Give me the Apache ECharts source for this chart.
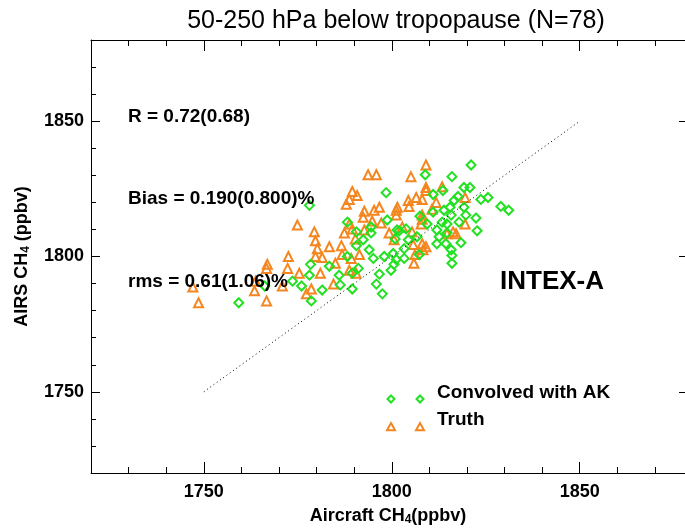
<!DOCTYPE html>
<html>
<head>
<meta charset="utf-8">
<script src="https://cdn.jsdelivr.net/npm/echarts@6/dist/echarts.min.js"></script>
<style>
html,body{margin:0;padding:0;background:#fff;}
#chart{width:685px;height:531px;}
</style>
</head>
<body>
<div id="chart"></div>
<script>
// ---- data ----
const xMin = 1720;
const xMax = 1878;   // the plot frame is cut off by the right edge of the image
const yMin = 1720;
const yMax = 1880;
const majorTicks = [1750, 1800, 1850];
const oneToOne = [1750, 1850];

const akX = [1759.3,1766.2,1778.1,1778.4,1778.1,1773.6,1776.0,1781.5,1778.6,1786.0,
  1786.3,1789.5,1788.2,1790.6,1788.2,1789.5,1798.5,1794.5,1794.5,1798.8,
  1801.4,1792.4,1790.6,1794.0,1795.1,1798.0,1800.4,1801.2,1800.6,1799.8,
  1791.1,1795.9,1797.5,1821.1,1808.9,1816.0,1813.6,1819.2,1820.8,1811.0,
  1817.6,1816.6,1823.7,1825.6,1829.0,1831.1,1815.5,1813.9,1819.2,1815.8,
  1819.7,1822.4,1807.5,1809.4,1813.4,1814.7,1803.8,1802.0,1822.7,1814.7,
  1804.4,1812.6,1812.0,1814.4,1818.4,1815.8,1816.0,1816.0,1803.3,1806.7,
  1811.0,1817.9,1796.7,1783.4,1800.9,1807.3,1812.0,1803.3];
const akY = [1782.9,1789.1,1818.9,1797.1,1793.1,1790.9,1789.1,1787.6,1783.6,1793.1,
  1789.5,1788.0,1812.7,1809.1,1800.0,1793.8,1823.6,1810.9,1808.7,1813.5,
  1809.8,1806.2,1804.0,1802.5,1799.3,1800.0,1801.1,1798.9,1797.1,1794.9,
  1795.6,1789.8,1786.2,1833.8,1830.2,1829.5,1824.4,1825.5,1825.5,1822.9,
  1822.2,1820.7,1821.1,1821.8,1818.5,1817.1,1818.2,1817.1,1818.2,1815.3,
  1815.3,1814.2,1814.9,1812.0,1812.7,1812.0,1810.2,1809.5,1809.5,1808.7,
  1806.2,1807.3,1804.7,1804.7,1805.1,1802.5,1800.4,1797.5,1802.9,1807.3,
  1816.4,1812.7,1793.5,1796.4,1806.5,1800.7,1809.8,1799.3];

const truthX = [1747.1,1748.6,1763.8,1763.5,1766.7,1766.9,1766.7,1772.5,1772.3,1770.9,
  1774.9,1775.4,1779.4,1779.7,1780.2,1779.7,1781.5,1781.0,1778.6,1777.3,
  1784.5,1785.0,1786.6,1786.8,1789.2,1788.7,1790.3,1788.7,1789.5,1787.9,
  1788.7,1789.5,1790.8,1793.7,1795.9,1792.7,1795.3,1792.4,1794.8,1797.2,
  1792.7,1799.3,1800.6,1801.2,1801.2,1809.1,1805.1,1809.1,1809.1,1813.4,
  1806.5,1808.1,1804.4,1804.6,1810.7,1819.5,1808.1,1808.1,1807.8,1819.5,
  1814.7,1816.3,1817.1,1805.4,1808.1,1809.1,1808.3,1805.7,1806.2,1805.9,
  1783.4,1787.4,1796.7,1811.8,1802.8,1791.4,1801.5,1790.5];
const truthY = [1788.7,1782.9,1790.9,1787.3,1783.6,1797.1,1795.6,1800.0,1795.6,1789.1,
  1811.6,1793.8,1809.1,1805.8,1802.9,1800.0,1799.6,1793.8,1788.0,1786.2,
  1789.8,1797.5,1804.0,1800.7,1799.3,1794.9,1806.5,1812.0,1810.2,1819.3,
  1821.1,1824.0,1822.5,1830.2,1830.2,1816.7,1817.1,1814.5,1813.1,1812.4,
  1809.8,1808.7,1806.2,1817.1,1815.3,1833.8,1829.5,1825.5,1824.4,1825.8,
  1821.8,1821.1,1820.7,1818.5,1817.5,1821.8,1815.3,1813.8,1812.0,1812.0,
  1808.4,1809.1,1808.4,1809.1,1804.7,1803.6,1802.5,1804.4,1800.7,1797.5,
  1803.6,1808.7,1818.2,1820.0,1810.9,1800.7,1818.2,1793.8];

const titleText = '50-250 hPa below tropopause (N=78)';
const statR = 'R = 0.72(0.68)';
const statBias = 'Bias = 0.190(0.800)%';
const statRms = 'rms = 0.61(1.06)%';
const campaign = 'INTEX-A';
const akName = 'Convolved with AK';
const truthName = 'Truth';

// ---- styles ----
const GREEN = '#22e022';
const ORANGE = '#f5861f';
const FONT = '"Liberation Sans", Arial, Helvetica, sans-serif';

const chart = echarts.init(document.getElementById('chart'), null, {renderer: 'canvas'});

function pairs(xs, ys) { return xs.map((x, i) => [x, ys[i]]); }
const plainNum = v => String(v);

const subRich = {
  sub: {fontSize: 12, fontWeight: 'bold', fontFamily: FONT, color: '#000', verticalAlign: 'bottom', padding: [7, 0, 0, 0]}
};

function baseAxis(lo, hi, extra) {
  return Object.assign({
    type: 'value', min: lo, max: hi, gridIndex: 0,
    splitLine: {show: false},
    axisLine: {show: false},
    axisLabel: {show: false},
    axisTick: {show: false}
  }, extra);
}

const xAxes = [
  baseAxis(xMin, xMax, {
    position: 'bottom',
    axisLine: {show: true, onZero: false, lineStyle: {color: '#000', width: 1}},
    axisTick: {show: true, inside: true, length: 11, customValues: majorTicks, lineStyle: {color: '#000'}},
    axisLabel: {show: true, customValues: majorTicks, formatter: plainNum, margin: 10, fontFamily: FONT, fontWeight: 'bold', fontSize: 18, color: '#000'},
    name: 'Aircraft CH{sub|4}(ppbv)', nameLocation: 'middle', nameGap: 34,
    nameTextStyle: {fontFamily: FONT, fontWeight: 'bold', fontSize: 18, color: '#000', rich: subRich}
  }),
  baseAxis(xMin, xMax, {position: 'bottom', interval: 10,
    axisTick: {show: true, inside: true, length: 6, lineStyle: {color: '#000'}}}),
  baseAxis(xMin, xMax, {position: 'top',
    axisLine: {show: true, onZero: false, lineStyle: {color: '#000', width: 1}},
    axisTick: {show: true, inside: true, length: 11, customValues: majorTicks, lineStyle: {color: '#000'}}}),
  baseAxis(xMin, xMax, {position: 'top', interval: 10,
    axisTick: {show: true, inside: true, length: 6, lineStyle: {color: '#000'}}})
];

const yAxes = [
  baseAxis(yMin, yMax, {
    position: 'left',
    axisLine: {show: true, onZero: false, lineStyle: {color: '#000', width: 1}},
    axisTick: {show: true, inside: true, length: 9, customValues: majorTicks, lineStyle: {color: '#000'}},
    axisLabel: {show: true, customValues: majorTicks, formatter: plainNum, margin: 7, fontFamily: FONT, fontWeight: 'bold', fontSize: 18, color: '#000'},
    name: 'AIRS CH{sub|4} (ppbv)', nameLocation: 'middle', nameGap: 59, nameRotate: 90,
    nameTextStyle: {fontFamily: FONT, fontWeight: 'bold', fontSize: 18, color: '#000', rich: subRich}
  }),
  baseAxis(yMin, yMax, {position: 'left', interval: 10,
    axisTick: {show: true, inside: true, length: 5, lineStyle: {color: '#000'}}}),
  baseAxis(yMin, yMax, {position: 'right',
    axisLine: {show: false},
    axisTick: {show: true, inside: true, length: 6, customValues: majorTicks, lineStyle: {color: '#000'}}})
];

function legendDiamond(cx, cy) {
  const r = 3.5;
  return {type: 'polygon', shape: {points: [[cx, cy - r], [cx + r, cy], [cx, cy + r], [cx - r, cy]]},
    style: {fill: 'none', stroke: GREEN, lineWidth: 2}, z: 10};
}
function legendTriangle(cx, cy) {
  const r = 4;
  return {type: 'polygon', shape: {points: [[cx, cy - r], [cx + r, cy + r * 0.8], [cx - r, cy + r * 0.8]]},
    style: {fill: 'none', stroke: ORANGE, lineWidth: 2}, z: 10};
}
function txt(x, y, text, size, weight, align) {
  return {type: 'text', x: x, y: y, z: 10,
    style: {text: text, fill: '#000', font: weight + ' ' + size + 'px ' + FONT, align: align || 'left', verticalAlign: 'middle'}};
}

const option = {
  backgroundColor: '#fff',
  animation: false,
  grid: {left: 91, top: 40, right: 0, bottom: 50, containLabel: false},
  xAxis: xAxes,
  yAxis: yAxes,
  series: [
    {
      type: 'scatter', name: truthName, data: pairs(truthX, truthY),
      symbol: 'triangle', symbolSize: 9,
      itemStyle: {color: 'rgba(0,0,0,0)', borderColor: ORANGE, borderWidth: 2, opacity: 1},
      z: 3
    },
    {
      type: 'scatter', name: akName, data: pairs(akX, akY),
      symbol: 'diamond', symbolSize: 9,
      itemStyle: {color: 'rgba(0,0,0,0)', borderColor: GREEN, borderWidth: 2, opacity: 1},
      z: 4
    },
    {
      type: 'line', data: [[oneToOne[0], oneToOne[0]], [oneToOne[1], oneToOne[1]]],
      symbol: 'none', lineStyle: {color: '#000', width: 1, type: [1, 3]}, z: 5, silent: true
    }
  ],
  graphic: [
    txt(396, 21, titleText, 25, 'normal', 'center'),
    txt(128, 117, statR, 19, 'bold'),
    txt(128, 199, statBias, 19, 'bold'),
    txt(128, 282, statRms, 19, 'bold'),
    txt(500, 282, campaign, 26, 'bold'),
    txt(437, 393, akName, 19, 'bold'),
    txt(437, 420, truthName, 19, 'bold'),
    legendDiamond(391, 399), legendDiamond(420, 399),
    legendTriangle(391, 427), legendTriangle(420, 427)
  ]
};
chart.setOption(option);
</script>
</body>
</html>
